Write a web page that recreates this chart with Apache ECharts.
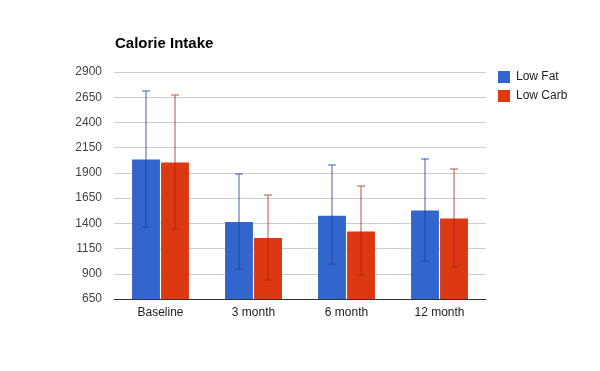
<!DOCTYPE html>
<html>
<head>
<meta charset="utf-8">
<script src="https://cdn.jsdelivr.net/npm/echarts@6/dist/echarts.min.js"></script>
<style>html,body{margin:0;padding:0;background:#fff}#c{width:600px;height:371px}</style>
</head>
<body>
<div id="c"></div>
<script>
var categories = ['Baseline', '3 month', '6 month', '12 month'];
var lowFat = [2032, 1414, 1476, 1526];
var lowCarb = [2002, 1255, 1318, 1447];
var lowFatLow = [1360, 948, 993, 1027];
var lowFatHigh = [2712, 1890, 1975, 2039];
var lowCarbLow = [1340, 841, 884, 970];
var lowCarbHigh = [2670, 1678, 1767, 1936];
var yTicks = [650, 900, 1150, 1400, 1650, 1900, 2150, 2400, 2650, 2900];

var BAR_W = 0.30, BAR_GAP = 0.04;

function errData(lo, hi) {
  return categories.map(function (c, i) { return [i, lo[i], hi[i]]; });
}
function errRender(side, color) {
  return function (params, api) {
    var idx = api.value(0);
    var band = api.size([1, 0])[0];
    var bw = band * BAR_W;
    var off = side * (bw + bw * BAR_GAP) / 2;
    var lo = api.coord([idx, api.value(1)]);
    var hi = api.coord([idx, api.value(2)]);
    var x = Math.round(lo[0] + off);
    var cap = 4;
    var st = { stroke: color, lineWidth: 1.2 };
    return {
      type: 'group',
      children: [
        { type: 'line', shape: { x1: x, y1: lo[1], x2: x, y2: hi[1] }, style: st },
        { type: 'line', shape: { x1: x - cap, y1: Math.round(hi[1]), x2: x + cap, y2: Math.round(hi[1]) }, style: st },
        { type: 'line', shape: { x1: x - cap, y1: Math.round(lo[1]), x2: x + cap, y2: Math.round(lo[1]) }, style: st }
      ]
    };
  };
}

var chart = echarts.init(document.getElementById('c'), null, { renderer: 'canvas' });
chart.setOption({
  animation: false,
  textStyle: { fontFamily: 'Liberation Sans, Arial, sans-serif' },
  title: {
    text: 'Calorie Intake',
    left: 115, top: 36,
    padding: 0,
    textStyle: { fontSize: 15, fontWeight: 'bold', color: '#000', fontFamily: 'Liberation Sans, Arial, sans-serif' }
  },
  legend: {
    orient: 'vertical',
    left: 498, top: 71,
    padding: 0,
    itemWidth: 12, itemHeight: 12, itemGap: 7,
    icon: 'rect',
    textStyle: { fontSize: 12, color: '#222', padding: [0, 0, 0, 1] },
    data: ['Low Fat', 'Low Carb']
  },
  grid: { left: 114, right: 114, top: 72, bottom: 72, containLabel: false },
  xAxis: {
    type: 'category',
    data: categories,
    axisTick: { show: false },
    axisLine: { lineStyle: { color: '#333', width: 1 } },
    axisLabel: { color: '#222', fontSize: 12, margin: 8 }
  },
  yAxis: {
    type: 'value',
    min: yTicks[0], max: yTicks[yTicks.length - 1], interval: yTicks[1] - yTicks[0],
    axisLine: { show: false },
    axisTick: { show: false },
    splitLine: { lineStyle: { color: '#cccccc' } },
    axisLabel: { color: '#444', fontSize: 12, margin: 12, formatter: function (v) { return String(v); } }
  },
  series: [
    { name: 'Low Fat', type: 'bar', data: lowFat, barWidth: '30%', barGap: '4%', itemStyle: { color: '#3366cc' } },
    { name: 'Low Carb', type: 'bar', data: lowCarb, barWidth: '30%', barGap: '4%', itemStyle: { color: '#dc3912' } },
    { type: 'custom', data: errData(lowFatLow, lowFatHigh), renderItem: errRender(-1, 'rgba(30,65,160,0.7)'), z: 5, silent: true },
    { type: 'custom', data: errData(lowCarbLow, lowCarbHigh), renderItem: errRender(1, 'rgba(160,35,15,0.65)'), z: 5, silent: true }
  ]
});
</script>
</body>
</html>
